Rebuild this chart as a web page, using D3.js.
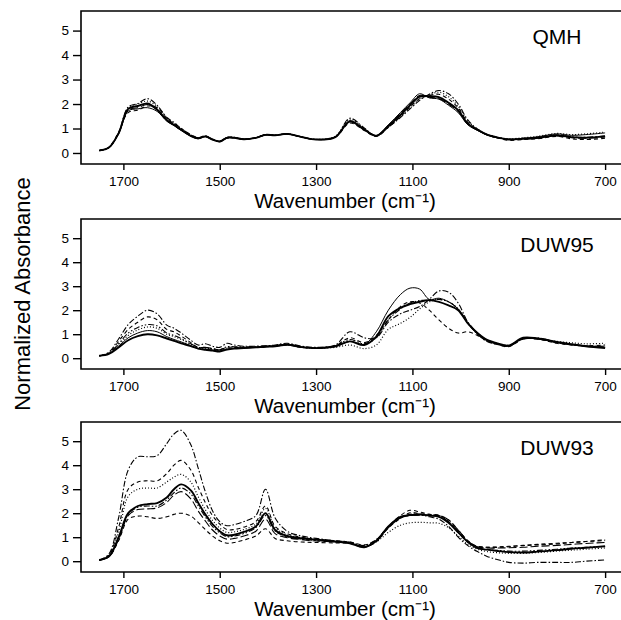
<!DOCTYPE html>
<html>
<head>
<meta charset="utf-8">
<script src="https://cdn.jsdelivr.net/npm/d3@7"></script>
<style>
    body { margin: 0; background: #fff; }
    text { font-family: "Liberation Sans", Arial, Helvetica, sans-serif; fill: #000; }
</style>
</head>
<body>
<div id="chart-area"></div>
<script>

// wavenumber grid shared by all spectra (cm-1)
const wavenumbers = [1750, 1730, 1710, 1690, 1670, 1650, 1630, 1610, 1595, 1580,
    1560, 1545, 1530, 1515, 1500, 1485, 1470, 1450, 1425, 1405,
    1385, 1360, 1330, 1300, 1260, 1230, 1200, 1175, 1150, 1125,
    1105, 1085, 1065, 1045, 1025, 1005, 985, 965, 945, 920,
    900, 870, 840, 800, 770, 740, 700];

const xTicks = [1700, 1500, 1300, 1100, 900, 700];
const yTicks = [0, 1, 2, 3, 4, 5];
const panelNames = ["QMH", "DUW95", "DUW93"];

// QMH spectra
const qmhSpectra = [
    [0.10,0.22,0.80,1.80,1.92,2.02,1.78,1.35,1.15,0.95, 0.70,0.60,0.68,0.55,0.47,0.62,0.62,0.56,0.62,0.74,
     0.72,0.78,0.65,0.55,0.65,1.28,0.95,0.70,1.10,1.55, 1.95,2.30,2.32,2.28,2.05,1.75,1.20,0.95,0.75,0.62,
     0.55,0.58,0.62,0.72,0.65,0.62,0.68],
    [0.10,0.22,0.78,1.72,1.80,1.85,1.70,1.30,1.12,0.92, 0.68,0.58,0.66,0.55,0.48,0.64,0.63,0.57,0.62,0.74,
     0.72,0.77,0.65,0.55,0.66,1.32,0.98,0.72,1.15,1.65, 2.05,2.42,2.25,2.20,1.95,1.65,1.15,0.92,0.74,0.62,
     0.56,0.60,0.66,0.78,0.72,0.75,0.82],
    [0.10,0.24,0.85,1.65,1.75,1.92,1.85,1.40,1.20,1.00, 0.75,0.62,0.70,0.55,0.46,0.60,0.62,0.56,0.62,0.74,
     0.72,0.79,0.65,0.55,0.64,1.22,0.92,0.68,1.05,1.48, 1.88,2.22,2.35,2.40,2.20,1.85,1.25,0.95,0.74,0.60,
     0.52,0.55,0.58,0.68,0.58,0.55,0.60],
    [0.10,0.22,0.82,1.85,2.00,2.12,1.90,1.45,1.20,0.98, 0.72,0.60,0.68,0.56,0.48,0.64,0.64,0.57,0.63,0.75,
     0.73,0.78,0.66,0.56,0.68,1.38,1.00,0.70,1.08,1.50, 1.85,2.20,2.38,2.48,2.30,1.90,1.30,0.98,0.76,0.63,
     0.58,0.62,0.68,0.80,0.75,0.78,0.85],
    [0.10,0.22,0.82,1.88,2.02,2.22,1.95,1.45,1.25,1.00, 0.74,0.62,0.70,0.56,0.47,0.63,0.63,0.56,0.62,0.75,
     0.72,0.78,0.65,0.55,0.66,1.42,1.02,0.70,1.05,1.45, 1.80,2.15,2.40,2.55,2.42,2.00,1.35,0.98,0.75,0.61,
     0.56,0.60,0.64,0.74,0.66,0.64,0.70],
    [0.10,0.22,0.80,1.75,1.85,1.98,1.75,1.32,1.12,0.94, 0.70,0.60,0.68,0.55,0.47,0.62,0.62,0.56,0.62,0.74,
     0.72,0.78,0.65,0.55,0.65,1.30,0.96,0.70,1.12,1.60, 2.00,2.35,2.28,2.22,2.00,1.70,1.18,0.94,0.74,0.61,
     0.55,0.57,0.60,0.70,0.62,0.60,0.65]
];

// DUW95 spectra
const duw95Spectra = [
    [0.10,0.18,0.45,0.75,0.92,1.00,0.95,0.82,0.72,0.62, 0.50,0.40,0.35,0.32,0.28,0.36,0.40,0.42,0.45,0.48,
     0.50,0.56,0.46,0.42,0.50,0.70,0.55,0.90,1.75,2.10, 2.25,2.35,2.42,2.35,2.20,2.00,1.45,1.05,0.76,0.60,
     0.52,0.85,0.82,0.68,0.58,0.50,0.42],
    [0.10,0.25,0.80,1.40,1.75,2.00,1.85,1.38,1.25,1.05, 0.75,0.55,0.60,0.50,0.45,0.62,0.55,0.50,0.50,0.52,
     0.55,0.62,0.50,0.45,0.55,1.10,0.85,0.85,1.50,1.85, 2.00,2.15,2.45,2.80,2.75,2.30,1.50,1.00,0.70,0.56,
     0.50,0.82,0.85,0.66,0.58,0.52,0.50],
    [0.10,0.22,0.70,1.20,1.50,1.72,1.60,1.20,1.10,0.92, 0.65,0.45,0.45,0.40,0.35,0.45,0.45,0.45,0.45,0.48,
     0.50,0.55,0.45,0.42,0.52,0.85,0.65,0.95,1.60,2.15, 2.35,2.30,2.00,1.60,1.25,1.05,1.10,0.95,0.72,0.55,
     0.48,0.80,0.80,0.62,0.55,0.52,0.55],
    [0.10,0.20,0.60,1.05,1.28,1.40,1.35,1.05,0.95,0.82, 0.60,0.45,0.45,0.40,0.35,0.48,0.48,0.47,0.48,0.50,
     0.52,0.58,0.48,0.43,0.52,0.78,0.60,0.85,1.60,2.05, 2.30,2.40,2.42,2.45,2.35,2.05,1.50,1.05,0.75,0.58,
     0.50,0.80,0.80,0.64,0.56,0.50,0.46],
    [0.10,0.20,0.55,0.95,1.18,1.30,1.25,1.00,0.90,0.78, 0.58,0.42,0.42,0.38,0.33,0.42,0.44,0.44,0.46,0.48,
     0.50,0.55,0.45,0.42,0.45,0.55,0.40,0.55,1.20,1.45, 1.70,2.05,2.35,2.45,2.35,2.05,1.45,1.05,0.75,0.60,
     0.55,0.80,0.82,0.70,0.64,0.60,0.62],
    [0.10,0.19,0.50,0.85,1.05,1.15,1.10,0.90,0.78,0.68, 0.52,0.40,0.38,0.34,0.30,0.38,0.42,0.43,0.46,0.50,
     0.52,0.58,0.47,0.42,0.48,0.70,0.58,1.10,2.00,2.65, 2.92,2.88,2.45,2.50,2.35,2.05,1.45,1.00,0.72,0.56,
     0.50,0.82,0.80,0.65,0.56,0.50,0.46]
];

// DUW93 spectra
const duw93Spectra = [
    [0.05,0.30,1.80,3.80,4.35,4.35,4.40,4.90,5.30,5.45, 4.85,3.90,2.90,2.10,1.65,1.48,1.52,1.65,1.90,3.00,
     1.80,1.25,1.05,0.95,0.85,0.80,0.65,0.90,1.40,1.80, 1.95,1.95,1.85,1.75,1.45,1.00,0.65,0.40,0.20,0.05,
     -0.05,-0.08,-0.05,-0.05,-0.05,0.00,0.05],
    [0.05,0.25,1.40,3.00,3.30,3.35,3.35,3.65,4.00,4.20, 3.80,3.10,2.45,1.90,1.55,1.32,1.32,1.42,1.65,2.30,
     1.45,1.15,1.00,0.92,0.85,0.80,0.68,0.90,1.45,1.90, 2.12,2.05,1.95,1.90,1.65,1.20,0.80,0.62,0.58,0.58,
     0.60,0.65,0.68,0.72,0.78,0.82,0.90],
    [0.05,0.22,1.20,2.70,3.00,3.05,3.05,3.30,3.50,3.62, 3.30,2.70,2.15,1.70,1.38,1.20,1.22,1.32,1.55,2.20,
     1.40,1.10,0.98,0.90,0.82,0.78,0.62,0.80,1.20,1.50, 1.60,1.62,1.60,1.58,1.40,1.05,0.70,0.50,0.40,0.35,
     0.33,0.33,0.36,0.42,0.46,0.50,0.55],
    [0.05,0.20,1.00,2.00,2.30,2.38,2.42,2.65,3.00,3.20, 2.95,2.45,1.95,1.55,1.25,1.08,1.10,1.22,1.45,2.00,
     1.30,1.05,0.95,0.90,0.82,0.75,0.58,0.85,1.45,1.85, 1.92,1.95,1.90,1.85,1.60,1.20,0.80,0.55,0.48,0.42,
     0.38,0.36,0.40,0.46,0.52,0.56,0.62],
    [0.05,0.20,0.95,1.95,2.25,2.30,2.30,2.55,2.85,3.05, 2.80,2.32,1.85,1.45,1.18,1.02,1.05,1.15,1.40,1.90,
     1.25,1.02,0.92,0.86,0.80,0.76,0.60,0.85,1.42,1.82, 1.90,1.92,1.90,1.88,1.65,1.25,0.82,0.55,0.48,0.45,
     0.42,0.42,0.45,0.50,0.55,0.58,0.62],
    [0.05,0.18,0.90,1.90,2.15,2.18,2.22,2.45,2.75,2.90, 2.60,2.10,1.68,1.30,1.05,0.92,0.95,1.05,1.25,1.75,
     1.15,0.98,0.90,0.84,0.80,0.76,0.60,0.82,1.40,1.80, 1.90,1.92,1.92,1.90,1.72,1.30,0.85,0.60,0.55,0.55,
     0.56,0.58,0.62,0.66,0.70,0.74,0.78],
    [0.05,0.18,0.85,1.75,1.88,1.85,1.78,1.85,1.95,2.00, 1.88,1.62,1.32,1.05,0.85,0.75,0.78,0.88,1.05,1.35,
     0.95,0.85,0.80,0.78,0.76,0.74,0.58,0.82,1.38,1.78, 2.02,1.98,1.95,1.92,1.72,1.30,0.85,0.62,0.58,0.60,
     0.62,0.66,0.70,0.75,0.78,0.82,0.86]
];

// line styles (stroke width, dash pattern)
const lineStyles = {
    bold:     {width: 1.9, dash: null},
    solid:    {width: 1.0, dash: null},
    dash:     {width: 1.1, dash: "4,3"},
    longDash: {width: 1.1, dash: "8,3"},
    dot:      {width: 1.2, dash: "1,2"},
    dashDot:  {width: 1.1, dash: "6,2,1.5,2"},
    dashDot2: {width: 1.1, dash: "6,2,1.5,2,1.5,2"}
};

const qmhStyles = ["bold", "solid", "dash", "dot", "dashDot", "longDash"];
const duw95Styles = ["bold", "dashDot", "dash", "dashDot2", "dot", "solid"];
const duw93Styles = ["dashDot", "dash", "dot", "bold", "dashDot2", "longDash", "dash"];


class SpectraPanel {

    constructor(svg, title, spectra, styles, top, bottom) {
        this.svg = svg;
        this.title = title;
        this.spectra = spectra;
        this.styles = styles;
        this.top = top;
        this.bottom = bottom;

        this.initVis();
    }

    initVis() {
        let vis = this;

        vis.left = 81;
        vis.right = 621;

        vis.x = d3.scaleLinear()
            .domain([1788, 667])
            .range([vis.left, vis.right]);

        vis.y = d3.scaleLinear()
            .domain([-0.45, 5.8])
            .range([vis.bottom, vis.top]);

        vis.g = vis.svg.append("g").attr("class", "panel");

        // frame: left, top and bottom only
        vis.g.append("path")
            .attr("d", `M${vis.right},${vis.top}H${vis.left}V${vis.bottom}H${vis.right}`)
            .attr("fill", "none")
            .attr("stroke", "#000")
            .attr("stroke-width", 1.6);

        let yAxis = vis.g.append("g")
            .attr("transform", `translate(${vis.left},0)`)
            .call(d3.axisLeft(vis.y).tickValues(yTicks).tickFormat(d3.format("d"))
                .tickSize(8).tickPadding(4));

        let xAxis = vis.g.append("g")
            .attr("transform", `translate(0,${vis.bottom})`)
            .call(d3.axisBottom(vis.x).tickValues(xTicks).tickFormat(d3.format("d"))
                .tickSize(6).tickPadding(6));

        [yAxis, xAxis].forEach(a => {
            a.select(".domain").remove();
            a.selectAll("line").attr("stroke", "#000").attr("stroke-width", 1.4);
            a.selectAll("text")
                .attr("font-size", 13.5)
                .attr("font-family", null);
        });

        // axis title
        vis.g.append("text")
            .attr("x", 345)
            .attr("y", vis.bottom + 44)
            .attr("text-anchor", "middle")
            .attr("font-size", 20.5)
            .text("Wavenumber (cm\u207B\u00B9)");

        // panel name
        vis.g.append("text")
            .attr("x", 557)
            .attr("y", vis.top + 33)
            .attr("text-anchor", "middle")
            .attr("font-size", 21)
            .text(vis.title);

        vis.line = d3.line()
            .x(d => vis.x(d[0]))
            .y(d => vis.y(d[1]))
            .curve(d3.curveCatmullRom.alpha(0.5));

        vis.g.selectAll(".spectrum")
            .data(vis.spectra)
            .enter()
            .append("path")
            .attr("class", "spectrum")
            .attr("fill", "none")
            .attr("stroke", "#000")
            .attr("stroke-width", (d, i) => lineStyles[vis.styles[i]].width)
            .attr("stroke-dasharray", (d, i) => lineStyles[vis.styles[i]].dash)
            .attr("stroke-linejoin", "round")
            .attr("d", d => vis.line(wavenumbers.map((w, j) => [w, d[j]])));
    }
}


let svg = d3.select("#chart-area").append("svg")
    .attr("width", 621)
    .attr("height", 620);

new SpectraPanel(svg, panelNames[0], qmhSpectra, qmhStyles, 11, 164);
new SpectraPanel(svg, panelNames[1], duw95Spectra, duw95Styles, 219, 369);
new SpectraPanel(svg, panelNames[2], duw93Spectra, duw93Styles, 422, 572);

svg.append("text")
    .attr("transform", "translate(30,294) rotate(-90)")
    .attr("text-anchor", "middle")
    .attr("font-size", 22)
    .text("Normalized Absorbance");

</script>
</body>
</html>
